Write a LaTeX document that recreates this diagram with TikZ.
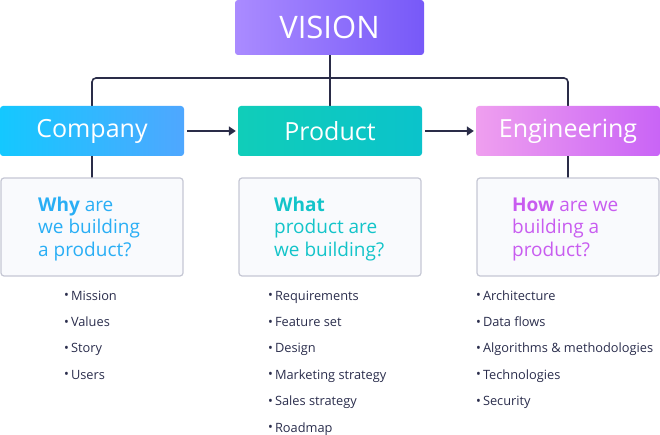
\documentclass[tikz,border=0pt]{standalone}
\usepackage{fontspec}
\setmainfont{Open Sans}
\usetikzlibrary{arrows.meta}

% colours of the chart
\definecolor{ink}{HTML}{2A2C48}
\definecolor{itemtext}{HTML}{2A2D4C}
\definecolor{qfill}{HTML}{F9FAFD}
\definecolor{qline}{HTML}{C5C7D4}
\definecolor{visionL}{HTML}{AA8BFF}
\definecolor{visionR}{HTML}{7759F8}
\definecolor{companyL}{HTML}{14C8FF}
\definecolor{companyR}{HTML}{4FA7FF}
\definecolor{productL}{HTML}{10CDB9}
\definecolor{productR}{HTML}{0BC3CB}
\definecolor{engL}{HTML}{EF9FEF}
\definecolor{engR}{HTML}{C964F6}
\definecolor{whyc}{HTML}{29AEF5}
\definecolor{whatc}{HTML}{13C4C9}
\definecolor{howc}{HTML}{C85CF0}

\tikzset{
  header/.style={rounded corners=3pt, minimum width=184pt, minimum height=50pt,
    inner sep=0pt, text=white, font=\fontsize{25}{28}\selectfont},
  question/.style={rounded corners=3pt, draw=qline, line width=1.2pt, fill=qfill,
    minimum width=182pt, minimum height=98pt, inner sep=0pt},
  qtext/.style={anchor=base west, inner sep=0pt, align=left,
    font=\fontsize{19}{22}\selectfont},
  item/.style={anchor=base west, inner sep=0pt, text=itemtext,
    font=\fontsize{12.8}{15}\selectfont},
  link/.style={draw=ink, line width=1.6pt},
  arrow/.style={link, -{Triangle[length=7pt,width=9pt]}}
}

\newcommand{\dotmark}{\raisebox{0.05ex}{•}\hspace{2pt}}

\begin{document}
\begin{tikzpicture}[x=1pt,y=-1pt]
  \useasboundingbox (0,0) rectangle (660,435);

  % Connectors first, boxes on top
  \coordinate (hub) at (330,78);
  \draw[link, rounded corners=4pt] (92,130) |- (hub) -| (568,130);
  \draw[link] (330,27) -- (330,130);
  \draw[link] (92,130) -- (92,227);
  \draw[link] (568,130) -- (568,227);

  % Top box
  \node[header, shading=axis, left color=visionL, right color=visionR,
        minimum width=189pt, minimum height=55pt,
        font=\fontsize{31}{34}\selectfont] (vision) at (329.5,27.5) {VISION};

  % The three areas
  \node[header, shading=axis, left color=companyL, right color=companyR] (company) at (92,131) {Company};
  \node[header, shading=axis, left color=productL, right color=productR] (product) at (330,131) {Product};
  \node[header, shading=axis, left color=engL, right color=engR] (engineering) at (568,131) {Engineering};

  \draw[arrow, shorten <=3pt, shorten >=2pt] (company) -- (product);
  \draw[arrow, shorten <=3pt, shorten >=2pt] (product) -- (engineering);

  % Questions (base anchor sits on the last line)
  \node[question] (why) at (92,227) {};
  \node[question] (what) at (330,227) {};
  \node[question] (how) at (568,227) {};
  \node[qtext, text=whyc] (why-q) at (38,256) {\textbf{Why} are\\we building\\a product?};
  \node[qtext, text=whatc] (what-q) at (274,256) {\textbf{What}\\product are\\we building?};
  \node[qtext, text=howc] (how-q) at (512,256) {\textbf{How} are we\\building a\\product?};

  % Lists under each question
  \foreach \txt [count=\i] in {Mission, Values, Story, Users}
    \node[item] (why-\i) at (64, 273.6+26.4*\i) {\dotmark\txt};
  \foreach \txt [count=\i] in {Requirements, Feature set, Design, Marketing strategy, Sales strategy, Roadmap}
    \node[item] (what-\i) at (268, 273.6+26.4*\i) {\dotmark\txt};
  \foreach \txt [count=\i] in {Architecture, Data flows, {Algorithms \& methodologies}, Technologies, Security}
    \node[item] (how-\i) at (476, 273.6+26.4*\i) {\dotmark\txt};
\end{tikzpicture}
\end{document}
